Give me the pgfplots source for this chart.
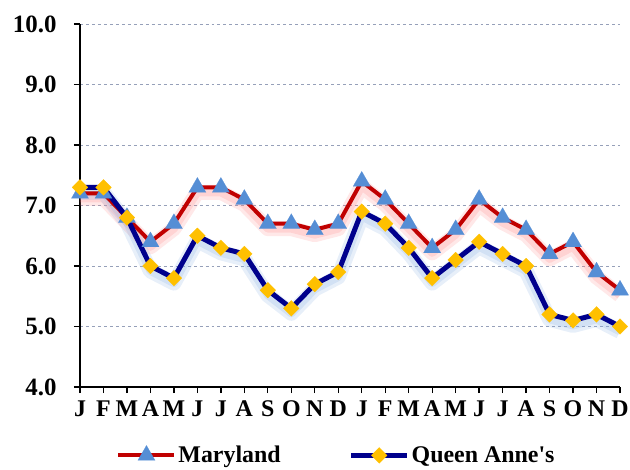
\documentclass[border=0pt]{standalone}
\usepackage{pgfplots}
\pgfplotsset{compat=1.18}
\usepackage{fontspec}
\setmainfont{Liberation Serif}[Ligatures=TeXOff]
\definecolor{mdred}{RGB}{192,0,0}
\definecolor{qanavy}{RGB}{0,0,140}
\definecolor{tri}{RGB}{85,142,213}
\definecolor{dia}{RGB}{255,192,0}
\definecolor{gridc}{RGB}{150,160,185}
\pgfplotstableread{
x md qa
0 7.2 7.3
1 7.2 7.3
2 6.8 6.8
3 6.4 6.0
4 6.7 5.8
5 7.3 6.5
6 7.3 6.3
7 7.1 6.2
8 6.7 5.6
9 6.7 5.3
10 6.6 5.7
11 6.7 5.9
12 7.4 6.9
13 7.1 6.7
14 6.7 6.3
15 6.3 5.8
16 6.6 6.1
17 7.1 6.4
18 6.8 6.2
19 6.6 6.0
20 6.2 5.2
21 6.4 5.1
22 5.9 5.2
23 5.6 5.0
}\data
\begin{document}
\begin{tikzpicture}
\useasboundingbox (-80bp,-83bp) rectangle (550bp,387bp);
\begin{axis}[
  at={(0,0)}, anchor=south west,
  scale only axis, width=540bp, height=363bp,
  xmin=0, xmax=23, ymin=4, ymax=10,
  xtick={0,...,23},
  xticklabels={J,F,M,A,M,J,J,A,S,O,N,D,J,F,M,A,M,J,J,A,S,O,N,D},
  ytick={4,5,...,10},
  axis x line*=bottom, axis y line*=left,
  axis line style={line width=1.3pt, -},
  tick style={line width=1.3pt, black},
  tick align=outside, major tick length=6bp,
  ymajorgrids, grid style={gridc, dashed, line width=0.8pt},
  yticklabel style={font=\fontsize{25}{27}\selectfont\bfseries, xshift=-14bp},
  xticklabel style={font=\fontsize{24}{26}\selectfont\bfseries, yshift=-4bp},
  /pgf/number format/assume math mode=true,
  yticklabel={\pgfmathprintnumber[fixed,fixed zerofill,precision=1]{\tick}},
  clip=false,
  legend columns=2,
  legend style={at={(0.475,-0.152)}, anchor=north, draw=none, fill=none,
    font=\fontsize{24}{26}\selectfont\bfseries,
    /tikz/every even column/.append style={column sep=66bp}},
  legend image code/.code={
    \draw[#1, line width=4pt] (0bp,0bp) -- (56bp,0bp);
    \draw[#1, mark repeat=2, mark phase=2] plot coordinates {(0bp,0bp) (28bp,0bp) (56bp,0bp)};
  },
]
% glow
\addplot[forget plot, red!50, opacity=0.18, line width=15pt, line join=round, yshift=-5bp] table[x=x,y=md]{\data};
\addplot[forget plot, red!50, opacity=0.2, line width=8pt, line join=round, yshift=-5bp] table[x=x,y=md]{\data};
\addplot[forget plot, tri!70, opacity=0.2, line width=15pt, line join=round, yshift=-5bp] table[x=x,y=qa]{\data};
\addplot[forget plot, tri!70, opacity=0.22, line width=8pt, line join=round, yshift=-5bp] table[x=x,y=qa]{\data};
\addplot[mdred, line width=4pt, line join=round, mark=triangle*, mark size=10bp,
  mark options={fill=tri, draw=tri, line width=0.1pt}] table[x=x,y=md]{\data};
\addlegendentry{Maryland}
\addplot[qanavy, line width=5pt, line join=round, mark=square*, mark size=5.6bp,
  mark options={fill=dia, draw=dia, line width=0.1pt, rotate=45}] table[x=x,y=qa]{\data};
\addlegendentry{Queen Anne's}
\end{axis}
\end{tikzpicture}
\end{document}
